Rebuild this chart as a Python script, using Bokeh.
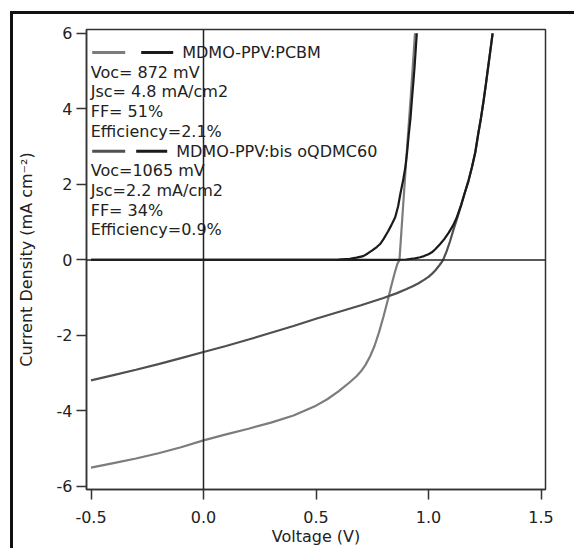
from bokeh.plotting import figure
from bokeh.models import FixedTicker, Span, PrintfTickFormatter
from bokeh.core.properties import value
from bokeh.embed import file_html
from bokeh.resources import INLINE

# ---------------- data ----------------
x_ticks = [-0.5, 0.0, 0.5, 1.0, 1.5]
y_ticks = [-6, -4, -2, 0, 2, 4, 6]

# MDMO-PPV:PCBM, illuminated
pcbm_light_v = [-0.5, -0.4, -0.3, -0.2, -0.1, 0.0, 0.1, 0.2, 0.3, 0.4, 0.5, 0.55,
                0.60, 0.65, 0.68, 0.70, 0.72, 0.74, 0.76, 0.78, 0.80, 0.82, 0.835, 0.85,
                0.862, 0.871, 0.888, 0.904, 0.922, 0.94]
pcbm_light_j = [-5.50, -5.38, -5.26, -5.12, -4.96, -4.78, -4.62, -4.47, -4.31, -4.12, -3.86, -3.69,
                -3.48, -3.24, -3.08, -2.95, -2.78, -2.56, -2.28, -1.92, -1.50, -1.04, -0.68, -0.34,
                -0.10, 0.0, 1.5, 2.9, 4.4, 6.0]
# MDMO-PPV:PCBM, dark
pcbm_dark_v = [-0.5, 0.0, 0.5, 0.60, 0.65, 0.68, 0.71, 0.73, 0.75, 0.77, 0.785, 0.80, 0.82,
               0.835, 0.852, 0.865, 0.875, 0.887, 0.897, 0.905, 0.912, 0.92, 0.926, 0.932,
               0.938, 0.943, 0.948]
pcbm_dark_j = [0.0, 0.0, 0.0, 0.01, 0.03, 0.06, 0.10, 0.17, 0.25, 0.34, 0.42, 0.55, 0.75,
               0.92, 1.13, 1.42, 1.75, 2.10, 2.45, 2.85, 3.30, 3.75, 4.22, 4.65,
               5.10, 5.55, 6.0]
# MDMO-PPV:bis oQDMC60, illuminated
bis_light_v = [-0.5, -0.4, -0.3, -0.2, -0.1, 0.0, 0.1, 0.2, 0.3, 0.4, 0.5, 0.6, 0.7,
               0.8, 0.86, 0.90, 0.93, 0.956, 0.98, 1.0, 1.015, 1.03, 1.045, 1.055, 1.065,
               1.08, 1.095, 1.11, 1.13, 1.145, 1.16, 1.178, 1.193, 1.208, 1.22, 1.233,
               1.245, 1.255, 1.265, 1.275, 1.285]
bis_light_j = [-3.19, -3.05, -2.91, -2.76, -2.60, -2.44, -2.28, -2.11, -1.93, -1.75, -1.56, -1.38, -1.20,
               -1.01, -0.88, -0.78, -0.70, -0.62, -0.53, -0.45, -0.37, -0.28, -0.17, -0.09, 0.0,
               0.22, 0.48, 0.78, 1.15, 1.45, 1.75, 2.10, 2.45, 2.85, 3.30, 3.75,
               4.22, 4.65, 5.10, 5.55, 6.0]
# MDMO-PPV:bis oQDMC60, dark
bis_dark_v = [-0.5, 0.0, 0.5, 0.85, 0.90, 0.94, 0.963, 0.98, 1.0, 1.015, 1.03, 1.052, 1.07,
              1.09, 1.11, 1.126, 1.145, 1.16, 1.178, 1.193, 1.208, 1.22, 1.233, 1.245,
              1.255, 1.265, 1.275, 1.285]
bis_dark_j = [0.0, 0.0, 0.0, 0.0, 0.01, 0.04, 0.07, 0.10, 0.15, 0.20, 0.28, 0.42, 0.55,
              0.72, 0.92, 1.13, 1.45, 1.75, 2.10, 2.45, 2.85, 3.30, 3.75, 4.22,
              4.65, 5.10, 5.55, 6.0]

legend_names = ["MDMO-PPV:PCBM", "MDMO-PPV:bis oQDMC60"]
pcbm_stats = ["Voc= 872 mV", "Jsc= 4.8 mA/cm2", "FF= 51%", "Efficiency=2.1%"]
bis_stats = ["Voc=1065 mV", "Jsc=2.2 mA/cm2", "FF= 34%", "Efficiency=0.9%"]

# ---------------- figure ----------------
FONT = "DejaVu Sans"
TXT = "#222222"
LIGHT1 = "#7c7c7c"
LIGHT2 = "#505050"
DARK = "#1a1a1a"

p = figure(width=561, height=534, x_range=(-0.52, 1.52), y_range=(-6.08, 6.1),
           frame_width=459, frame_height=460,
           min_border_left=73, min_border_top=15, min_border_right=29, min_border_bottom=59,
           output_backend="svg", toolbar_location=None,
           x_axis_label="Voltage (V)", y_axis_label="Current Density (mA cm\u207b\u00b2)")
p.styles = {"border-top": "3px solid #111", "border-left": "3px solid #111",
            "margin-top": "11px", "margin-left": "10px"}

p.grid.visible = False
p.outline_line_color = "#333333"
p.outline_line_width = 1.5
p.background_fill_color = "white"
p.border_fill_color = "white"

for ax in (p.xaxis[0], p.yaxis[0]):
    ax.axis_line_color = "#333333"
    ax.axis_line_width = 1.5
    ax.major_tick_line_color = "#333333"
    ax.major_tick_line_width = 1.5
    ax.major_tick_out = 10
    ax.major_tick_in = 0
    ax.minor_tick_line_color = None
    ax.major_label_text_font = FONT
    ax.major_label_text_font_size = "16px"
    ax.major_label_text_color = TXT
    ax.axis_label_text_font = FONT
    ax.axis_label_text_font_size = "16px"
    ax.axis_label_text_font_style = "normal"
    ax.axis_label_text_color = TXT

p.xaxis.ticker = FixedTicker(ticks=x_ticks)
p.yaxis.ticker = FixedTicker(ticks=y_ticks)
p.xaxis.formatter = PrintfTickFormatter(format="%.1f")
p.yaxis.formatter = PrintfTickFormatter(format="%d")
p.xaxis.major_label_standoff = 11
p.yaxis.major_label_standoff = 4
p.xaxis.axis_label_standoff = 1
p.yaxis.axis_label_standoff = 18

p.add_layout(Span(location=0, dimension="width", line_color="#222222", line_width=1.5))
p.add_layout(Span(location=0, dimension="height", line_color="#222222", line_width=1.5))

p.line(pcbm_light_v, pcbm_light_j, line_color=LIGHT1, line_width=2.2)
p.line(bis_light_v, bis_light_j, line_color=LIGHT2, line_width=2.2)
p.line(pcbm_dark_v, pcbm_dark_j, line_color=DARK, line_width=2.2)
p.line(bis_dark_v, bis_dark_j, line_color=DARK, line_width=2.2)

# ---------------- custom legend (pixel positions converted to data) ----------------
X0_PX, Y0_PX, PX_PER_V, PX_PER_J = 203.3, 259.3, 225.0, 37.8
def dx(px):
    return (px - X0_PX) / PX_PER_V
def dy(py):
    return (Y0_PX - py) / PX_PER_J

rows = [
    (51.7, (92, 125), (141, 173), 182, LIGHT1, legend_names[0], [71.5, 91.2, 111.0, 130.7], pcbm_stats),
    (150.5, (92, 125), (136, 167), 176, LIGHT2, legend_names[1], [170.2, 189.9, 209.6, 229.3], bis_stats),
]
for (ry, gseg, kseg, tx, gcol, name, sys, stats) in rows:
    p.segment(x0=[dx(gseg[0])], y0=[dy(ry)], x1=[dx(gseg[1])], y1=[dy(ry)],
              line_color=gcol, line_width=3)
    p.segment(x0=[dx(kseg[0])], y0=[dy(ry)], x1=[dx(kseg[1])], y1=[dy(ry)],
              line_color=DARK, line_width=3)
    p.text(x=[dx(tx)], y=[dy(ry)], text=[name], text_font=value(FONT),
           text_font_size="16px", text_baseline="middle", text_align="left", text_color=TXT)
    p.text(x=[dx(90.5)] * len(stats), y=[dy(s) for s in sys], text=stats,
           text_font=value(FONT), text_font_size="16px", text_baseline="middle",
           text_align="left", text_color=TXT)

html = file_html(p, INLINE)
html = html.replace("<head>", "<head><style>html,body{overflow:hidden;}</style>", 1)
open("out.html", "w").write(html)
